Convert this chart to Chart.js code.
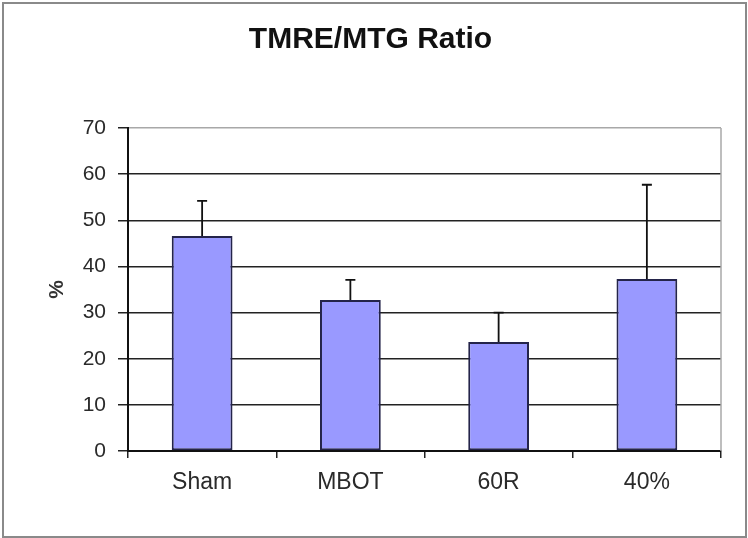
<!DOCTYPE html>
<html>
<head>
<meta charset="utf-8">
<title>TMRE/MTG Ratio</title>
<script src="https://cdn.jsdelivr.net/npm/chart.js@4/dist/chart.umd.min.js"></script>
<style>
  html, body { margin: 0; padding: 0; background: #fff; }
  canvas { display: block; }
</style>
</head>
<body>
<canvas id="ratioChart" width="748" height="538"></canvas>
<script>
'use strict';

/* ── Data ── */
const groups    = ['Sham', 'MBOT', '60R', '40%'];
const meanPct   = [46.6, 32.7, 23.6, 37.3];
const errorPct  = [7.6, 4.4, 6.4, 20.4];   // upper error bar length
const yTicks    = [0, 10, 20, 30, 40, 50, 60, 70];

const FONT = "'Liberation Sans', Arial, sans-serif";

/* ── Outer frame round the whole figure ── */
const framePlugin = {
  id: 'frame',
  beforeDraw(chart) {
    const { ctx, width, height } = chart;
    ctx.save();
    ctx.fillStyle = '#fff';
    ctx.fillRect(0, 0, width, height);
    ctx.strokeStyle = '#8a8a8a';
    ctx.lineWidth = 2;
    ctx.strokeRect(3, 3, width - 5, height - 4);
    ctx.restore();
  },
  afterDatasetsDraw(chart) {
    // light grey right edge of the plot area
    const { ctx, chartArea: a } = chart;
    ctx.save();
    ctx.strokeStyle = '#a8a8a8';
    ctx.lineWidth = 1.5;
    ctx.beginPath();
    ctx.moveTo(a.right, a.top);
    ctx.lineTo(a.right, a.bottom);
    ctx.stroke();
    ctx.restore();
  },
};

/* ── Upward-only error bars ── */
const errorBarPlugin = {
  id: 'errorBars',
  afterDatasetsDraw(chart) {
    const { ctx } = chart;
    const yScale = chart.scales.y;
    const meta = chart.getDatasetMeta(0);
    ctx.save();
    ctx.strokeStyle = '#111';
    ctx.lineWidth = 1.8;
    meta.data.forEach((bar, i) => {
      const x = bar.x;
      const yBase = yScale.getPixelForValue(meanPct[i]);
      const yTop = yScale.getPixelForValue(meanPct[i] + errorPct[i]);
      ctx.beginPath();
      ctx.moveTo(x, yBase);
      ctx.lineTo(x, yTop);
      ctx.moveTo(x - 5, yTop);
      ctx.lineTo(x + 5, yTop);
      ctx.stroke();
    });
    ctx.restore();
  },
};

new Chart(document.getElementById('ratioChart'), {
  type: 'bar',
  data: {
    labels: groups,
    datasets: [{
      data: meanPct,
      backgroundColor: '#9999ff',
      borderColor: '#24244a',
      borderWidth: 2,
      borderSkipped: false,
      categoryPercentage: 1,
      barPercentage: 0.41,
    }],
  },
  options: {
    responsive: false,
    animation: false,
    layout: { padding: { left: 20, right: 27, top: 0, bottom: 20 } },
    plugins: {
      legend: { display: false },
      tooltip: { enabled: false },
      title: {
        display: true,
        text: 'TMRE/MTG Ratio',
        color: '#111',
        font: { family: FONT, size: 30, weight: 'bold' },
        padding: { top: 22, bottom: 70 },
      },
    },
    scales: {
      x: {
        afterFit: (s) => { s.height = 67; },
        grid: {
          offset: true,
          drawOnChartArea: false,
          drawTicks: true,
          tickLength: 7,
          tickColor: '#222',
          lineWidth: 1.5,
        },
        border: { display: true, color: '#111', width: 2 },
        ticks: {
          color: '#2a2a2a',
          padding: 11,
          font: { family: FONT, size: 23 },
        },
      },
      y: {
        min: 0,
        max: 70,
        afterFit: (s) => { s.width = 108; },
        afterBuildTicks: (s) => { s.ticks = yTicks.map((v) => ({ value: v })); },
        grid: {
          color: (c) => (c.tick && c.tick.value === 70 ? '#a8a8a8' : '#222'),
          tickColor: '#222',
          lineWidth: 1.5,
          tickLength: 10,
        },
        border: { display: true, color: '#111', width: 2 },
        ticks: {
          color: '#2a2a2a',
          padding: 12,
          font: { family: FONT, size: 21 },
        },
        title: {
          display: true,
          text: '%',
          color: '#333',
          font: { family: FONT, size: 21, weight: 'bold' },
          padding: { top: 25, bottom: 0 },
        },
      },
    },
  },
  plugins: [framePlugin, errorBarPlugin],
});
</script>
</body>
</html>
